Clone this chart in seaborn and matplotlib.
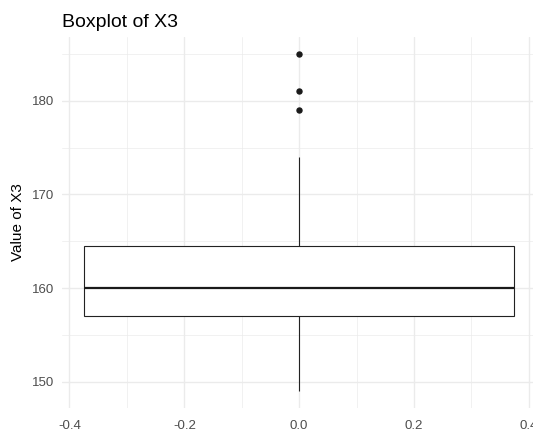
import numpy as np
import pandas as pd
import matplotlib
matplotlib.use("Agg")
import matplotlib.pyplot as plt
import seaborn as sns

# values of X3 (read off the box: Q1 157, median 160, Q3 164.5,
# whiskers 149..174, outliers 179, 181, 185)
x3_values = [149, 151, 152, 154, 155, 156, 157, 157, 158, 158, 159, 160, 160,
             160, 161, 162, 163, 164, 164.5, 166, 168, 174, 179, 181, 185]
x_ticks = [-0.4, -0.2, 0.0, 0.2, 0.4]
x_tick_labels = ["-0.4", "-0.2", "0.0", "0.2", "0.4"]
y_ticks = [150, 160, 170, 180]

df = pd.DataFrame({"X3": x3_values})

sns.set_theme(style="white")
plt.rcParams["font.family"] = ["Liberation Sans", "DejaVu Sans"]

fig = plt.figure(figsize=(5.33, 4.32), dpi=100)
# panel runs slightly past the right edge, as in the cropped original
ax = fig.add_axes([0.1169, 0.0556, 0.8887, 0.8588])

sns.boxplot(data=df, y="X3", ax=ax, width=0.75, color="white",
            linecolor="#222222", linewidth=0.8, fliersize=3.6,
            flierprops=dict(marker="o", markerfacecolor="#1a1a1a",
                            markeredgecolor="#1a1a1a"),
            medianprops=dict(linewidth=1.6, color="#1a1a1a"),
            capprops=dict(linewidth=0))

ax.set_xlim(-0.4125, 0.4125)
ax.set_ylim(147.2, 186.8)
ax.set_xticks(x_ticks)
ax.set_xticklabels(x_tick_labels)
ax.set_xticks([-0.3, -0.1, 0.1, 0.3], minor=True)
ax.set_yticks(y_ticks)
ax.set_yticks([155, 165, 175, 185], minor=True)

ax.set_axisbelow(True)
ax.grid(True, which="major", color="#EBEBEB", linewidth=1.0)
ax.grid(True, which="minor", color="#EBEBEB", linewidth=0.5)
ax.xaxis.grid(True, which="both")
for s in ax.spines.values():
    s.set_visible(False)
ax.tick_params(axis="both", which="both", length=0, labelsize=9.5,
               labelcolor="#4D4D4D", pad=6)
ax.tick_params(axis="x", pad=9)

ax.set_xlabel("")
ax.set_ylabel("Value of X3", fontsize=11, color="black", labelpad=5)
ax.set_title("Boxplot of X3", loc="left", fontsize=14, color="black", pad=7)

fig.savefig("out.png", dpi=100)
